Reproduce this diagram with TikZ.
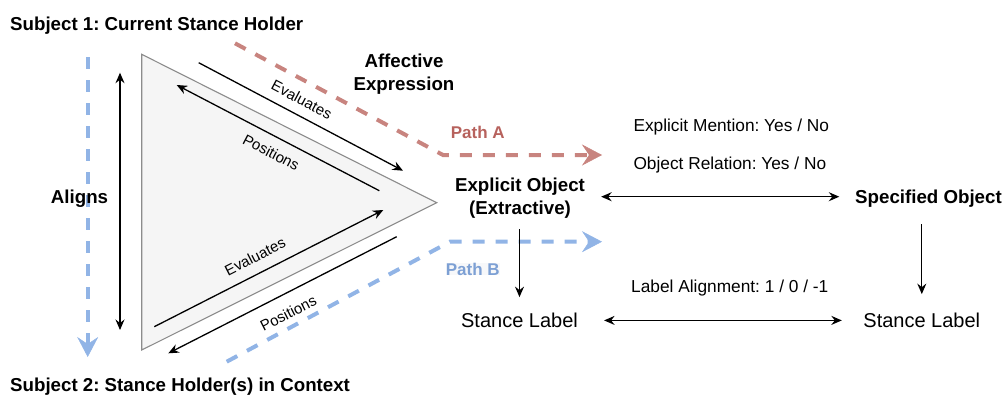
\documentclass[tikz,border=0pt]{standalone}
\usepackage{fontspec}
\setmainfont{Liberation Sans}
\usetikzlibrary{arrows.meta}
\frenchspacing
\definecolor{redp}{RGB}{200,132,127}
\definecolor{redt}{RGB}{183,98,93}
\definecolor{bluep}{RGB}{145,180,230}
\definecolor{bluet}{RGB}{125,160,212}
\definecolor{trifill}{RGB}{245,245,245}
\definecolor{tristroke}{RGB}{140,140,140}
\definecolor{pbbg}{RGB}{247,248,250}
\tikzset{
  boldtxt/.style={font=\fontsize{18.7}{22.5}\selectfont\bfseries, inner sep=0pt},
  smalltxt/.style={font=\fontsize{17.3}{20}\selectfont, inner sep=0pt},
  labtxt/.style={font=\fontsize{20}{24}\selectfont, inner sep=0pt},
  edgetxt/.style={font=\fontsize{15}{18}\selectfont, inner sep=0pt},
  pathtxt/.style={font=\fontsize{17}{20}\selectfont\bfseries, inner sep=0pt},
  conn/.style={line width=1.3pt, -{Stealth[length=10.5pt,width=9pt,inset=3.5pt]}},
  dconn/.style={line width=1.3pt, {Stealth[length=10.5pt,width=9pt,inset=3.5pt]}-{Stealth[length=10.5pt,width=9pt,inset=3.5pt]}},
  tri/.style={draw=tristroke, fill=trifill, line width=1.1pt, line join=miter},
  patha/.style={draw=redp, line width=4pt, dash pattern=on 12pt off 11pt,
    -{Stealth[length=20pt,width=21pt,inset=7pt,line width=0.5pt,fill=redp,color=redp]}},
  pathb/.style={draw=bluep, line width=4pt, dash pattern=on 12pt off 11pt,
    -{Stealth[length=20pt,width=21pt,inset=7pt,line width=0.5pt,fill=bluep,color=bluep]}},
}
\begin{document}
\begin{tikzpicture}[x=1pt,y=-1pt]
\useasboundingbox (0,0) rectangle (1003,394);

% triangle
\coordinate (tA) at (141.7,54.3);
\coordinate (tB) at (141.7,350);
\coordinate (tC) at (436.7,202.7);
\draw[tri] (tA) -- (tB) -- (tC) -- cycle;

% blue dashed vertical (left)
\coordinate (bv1) at (87.7,57);
\coordinate (bv2) at (87.7,357);
\draw[pathb] (bv1) -- (bv2);

% aligns arrow
\coordinate (alT) at (120,72.7);
\coordinate (alB) at (120,330);
\draw[dconn] (alT) -- (alB);

% path A
\coordinate (pa0) at (235,43.3);
\coordinate (pa1) at (443,155);
\coordinate (pa2) at (602,155);
\draw[patha] (pa0) -- (pa1) -- (pa2);

% path B
\coordinate (pb0) at (226.7,361.7);
\coordinate (pb1) at (450,241.7);
\coordinate (pb2) at (602,241.7);
\draw[pathb] (pb0) -- (pb1) -- (pb2);

% arrows along the triangle
\coordinate (t1a) at (198.7,62.7);
\coordinate (t1b) at (403,170.7);
\draw[conn] (t1a) -- (t1b);
\coordinate (t2a) at (379.3,190.7);
\coordinate (t2b) at (176.7,85);
\draw[conn] (t2a) -- (t2b);
\coordinate (b1a) at (154.3,326.7);
\coordinate (b1b) at (383.3,210);
\draw[conn] (b1a) -- (b1b);
\coordinate (b2a) at (396.7,236.7);
\coordinate (b2b) at (168.3,353.3);
\draw[conn] (b2a) -- (b2b);

\node[edgetxt, rotate=-27.9] (ev1) at (301.8,99.5) {Evaluates};
\node[edgetxt, rotate=-27.5] (po1) at (271.2,152.5) {Positions};
\node[edgetxt, rotate=27] (ev2) at (255,256.7) {Evaluates};
\node[edgetxt, rotate=27] (po2) at (288.3,313.3) {Positions};

% texts
\node[boldtxt, anchor=base west] (s1) at (10,30.5) {Subject 1: Current Stance Holder};
\node[boldtxt, anchor=base west] (s2) at (10,391) {Subject 2: Stance Holder(s) in Context};
\node[boldtxt, anchor=base] (al) at (79.5,203.5) {Aligns};
\node[boldtxt, align=center] (ae) at (404,74) {Affective\\Expression};
\node[boldtxt, align=center] (eo) at (520,198.2) {Explicit Object\\(Extractive)};
\node[boldtxt, anchor=base west] (so) at (855,203.3) {Specified Object};
\node[smalltxt, anchor=base west] (em) at (633.3,131) {Explicit Mention: Yes / No};
\node[smalltxt, anchor=base west] (orl) at (633.3,169) {Object Relation: Yes / No};
\node[smalltxt, anchor=base west] (la) at (631,292.5) {Label Alignment: 1 / 0 / -1};
\node[labtxt, anchor=base] (sl1) at (519.5,327.8) {Stance Label};
\node[labtxt, anchor=base] (sl2) at (921.8,327.8) {Stance Label};
\node[pathtxt, text=redt, anchor=base west] (pA) at (450.7,138.3) {Path A};
\node[pathtxt, text=bluet, fill=pbbg, anchor=base west] (pB) at (445.7,275) {Path B};

% connectors between nodes
\coordinate (yEO) at (0,196.7);
\coordinate (ySL) at (0,320.4);
\draw[dconn, shorten <=16pt, shorten >=15.7pt] (eo.east |- yEO) -- (so.west |- yEO);
\draw[dconn, shorten <=26pt, shorten >=21.4pt] (sl1.east |- ySL) -- (sl2.west |- ySL);
\draw[conn, shorten <=11pt, shorten >=16pt] (eo.south -| sl1.north) -- (sl1.north);
\draw[conn, shorten <=16.8pt, shorten >=19pt] (sl2.north |- so.south) -- (sl2.north);
\end{tikzpicture}
\end{document}
